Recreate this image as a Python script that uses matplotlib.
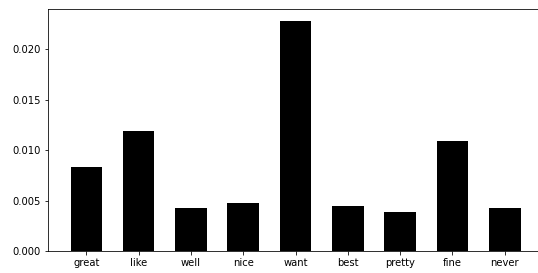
import matplotlib
matplotlib.use("Agg")
import matplotlib.pyplot as plt

words = ["great", "like", "well", "nice", "want", "best", "pretty", "fine", "never"]
freqs = [0.00838, 0.01188, 0.00432, 0.00475, 0.02283, 0.00452, 0.00386, 0.01089, 0.00432]

fig = plt.figure(figsize=(538 / 72, 273 / 72), dpi=72)
# the original was cropped on the right, so the axes run past the figure edge
ax = fig.add_axes([48 / 538, 21.7 / 273, 495 / 538, 242.3 / 273])
ax.bar(words, freqs, width=0.6, color="black")
ax.set_yticks([0.0, 0.005, 0.010, 0.015, 0.020])
ax.set_yticklabels(["0.000", "0.005", "0.010", "0.015", "0.020"])

fig.savefig("out.png", dpi=72)
